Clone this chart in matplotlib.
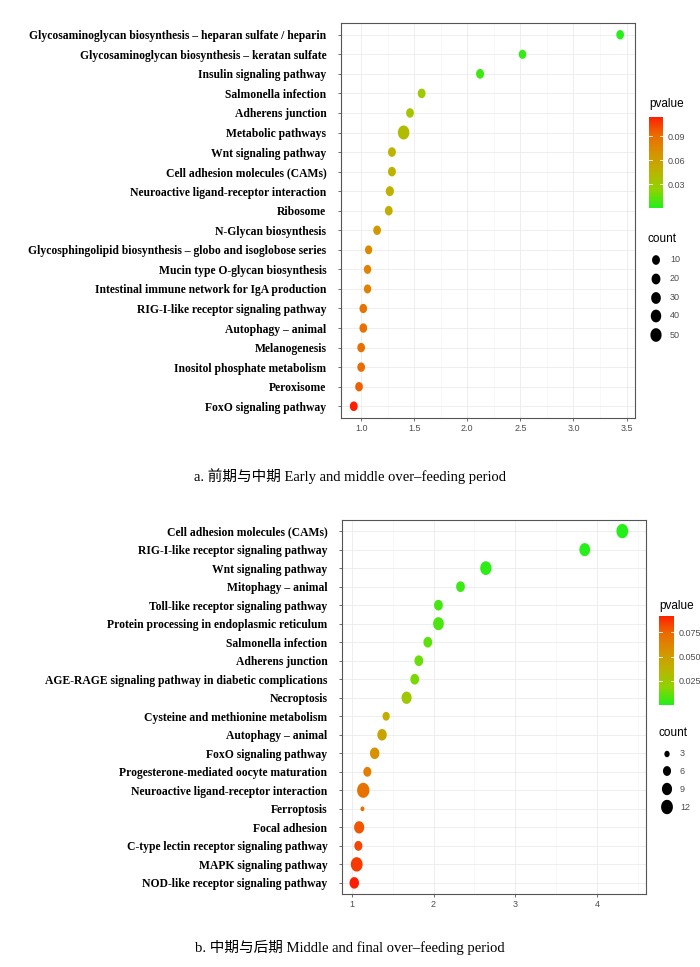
import numpy as np
import matplotlib
matplotlib.use("Agg")
import matplotlib.pyplot as plt
from matplotlib.colors import LinearSegmentedColormap, Normalize
from matplotlib.ticker import MultipleLocator
from matplotlib.path import Path

# panel a: early vs middle over-feeding
terms_a = [
    "Glycosaminoglycan biosynthesis – heparan sulfate / heparin",
    "Glycosaminoglycan biosynthesis – keratan sulfate",
    "Insulin signaling pathway",
    "Salmonella infection",
    "Adherens junction",
    "Metabolic pathways",
    "Wnt signaling pathway",
    "Cell adhesion molecules (CAMs)",
    "Neuroactive ligand-receptor interaction",
    "Ribosome",
    "N-Glycan biosynthesis",
    "Glycosphingolipid biosynthesis – globo and isoglobose series",
    "Mucin type O-glycan biosynthesis",
    "Intestinal immune network for IgA production",
    "RIG-I-like receptor signaling pathway",
    "Autophagy – animal",
    "Melanogenesis",
    "Inositol phosphate metabolism",
    "Peroxisome",
    "FoxO signaling pathway",
]
rich_a = [3.44, 2.52, 2.12, 1.57, 1.46, 1.40, 1.29, 1.29, 1.27, 1.26,
          1.15, 1.07, 1.06, 1.06, 1.02, 1.02, 1.00, 1.00, 0.98, 0.93]
pval_a = [0.001, 0.004, 0.006, 0.030, 0.034, 0.040, 0.045, 0.046, 0.048, 0.050,
          0.064, 0.074, 0.077, 0.078, 0.086, 0.087, 0.089, 0.090, 0.094, 0.114]
count_a = [8, 6, 11, 9, 9, 55, 10, 10, 13, 9,
           8, 4, 5, 5, 7, 8, 8, 8, 8, 10]

# panel b: middle vs final over-feeding
terms_b = [
    "Cell adhesion molecules (CAMs)",
    "RIG-I-like receptor signaling pathway",
    "Wnt signaling pathway",
    "Mitophagy – animal",
    "Toll-like receptor signaling pathway",
    "Protein processing in endoplasmic reticulum",
    "Salmonella infection",
    "Adherens junction",
    "AGE-RAGE signaling pathway in diabetic complications",
    "Necroptosis",
    "Cysteine and methionine metabolism",
    "Autophagy – animal",
    "FoxO signaling pathway",
    "Progesterone-mediated oocyte maturation",
    "Neuroactive ligand-receptor interaction",
    "Ferroptosis",
    "Focal adhesion",
    "C-type lectin receptor signaling pathway",
    "MAPK signaling pathway",
    "NOD-like receptor signaling pathway",
]
rich_b = [4.31, 3.85, 2.64, 2.33, 2.06, 2.06, 1.93, 1.82, 1.77, 1.67,
          1.42, 1.37, 1.28, 1.19, 1.14, 1.13, 1.09, 1.08, 1.06, 1.03]
pval_b = [0.0005, 0.001, 0.002, 0.004, 0.006, 0.007, 0.010, 0.012, 0.015, 0.025,
          0.040, 0.045, 0.055, 0.064, 0.070, 0.072, 0.079, 0.082, 0.085, 0.092]
count_b = [12, 10, 11, 7, 7, 10, 7, 7, 7, 9,
           5, 8, 8, 6, 13, 2, 9, 6, 12, 8]

legend_counts_a = [10, 20, 30, 40, 50]
legend_counts_b = [3, 6, 9, 12]

# green -> red gradient like ggplot scale_color_gradient(low="green", high="red")
cmap = LinearSegmentedColormap.from_list(
    "gr", ["#22F01A", "#8FD400", "#BDB300", "#D89200", "#EC6A00", "#FF1E00"])

label_font = dict(family="Liberation Serif", weight="bold", size=8.4)
tick_font = dict(family="Liberation Sans", size=6.5, color="#4d4d4d")
cap_family = ["Liberation Serif", "Noto Sans CJK SC"]

# the source picture was stretched a bit vertically, so dots are slightly tall
_t = np.linspace(0, 2 * np.pi, 60)
oval = Path(np.column_stack([0.82 * np.cos(_t), np.sin(_t)]), closed=True)


def size_a(c):
    return 36 + 1.2 * np.asarray(c, dtype=float)


def size_b(c):
    return np.clip(1.8 * (5.3 * np.asarray(c, dtype=float) - 4.0), 9, None)


def dot_panel(fig, rect, terms, rich, pval, count, sizefn, xlim, xmajor, xfmt):
    ax = fig.add_axes(rect)
    n = len(terms)
    y = np.arange(n)[::-1]
    ax.set_axisbelow(True)
    ax.scatter(rich, y, s=sizefn(count), c=pval, cmap=cmap, marker=oval,
               norm=Normalize(0, max(pval)), edgecolors="none", zorder=3)
    ax.set_ylim(-0.6, n - 1 + 0.6)
    ax.set_xlim(*xlim)
    ax.set_yticks(y)
    ax.set_yticklabels(terms, **label_font)
    ax.xaxis.set_major_locator(MultipleLocator(xmajor))
    ax.xaxis.set_minor_locator(MultipleLocator(xmajor / 2))
    ax.xaxis.set_major_formatter(xfmt)
    for lab in ax.get_xticklabels():
        lab.set_fontfamily(tick_font["family"])
        lab.set_fontsize(tick_font["size"])
        lab.set_color(tick_font["color"])
    ax.grid(True, which="major", color="#ebebeb", lw=0.6)
    ax.grid(True, which="minor", axis="x", color="#f3f3f3", lw=0.4)
    ax.tick_params(axis="both", which="major", length=2.5, width=0.5,
                   color="#333333", pad=2)
    ax.tick_params(axis="x", which="minor", length=0)
    ax.tick_params(axis="y", pad=8)
    for sp in ax.spines.values():
        sp.set_color("#555555")
        sp.set_linewidth(0.8)
    return ax


def color_legend(fig, rect, pmax, ticks, fmt, title_y):
    cax = fig.add_axes(rect)
    grad = np.linspace(0, pmax, 256).reshape(-1, 1)
    cax.imshow(grad, aspect="auto", cmap=cmap, origin="lower",
               extent=[0, 1, 0, pmax])
    cax.set_xticks([])
    cax.yaxis.tick_right()
    cax.set_yticks(ticks)
    cax.set_yticklabels([fmt % t for t in ticks], fontfamily="Liberation Sans",
                        fontsize=6.5, color="#4d4d4d")
    cax.tick_params(axis="y", length=0, pad=3)
    for t in ticks:
        cax.plot([0, 0.2], [t, t], color="white", lw=0.6)
        cax.plot([0.8, 1], [t, t], color="white", lw=0.6)
    cax.set_xlim(0, 1)
    cax.set_ylim(0, pmax)
    for sp in cax.spines.values():
        sp.set_visible(False)
    fig.text(rect[0], title_y, "pvalue", fontfamily="Liberation Sans",
             fontsize=8.5, ha="left", va="center")


def size_legend(fig, x_dot, x_lab, title_y, ys, counts, sizefn):
    fig.text(x_dot - 0.012, title_y, "count", fontfamily="Liberation Sans",
             fontsize=8.5, ha="left", va="center")
    lax = fig.add_axes([0, 0, 1, 1], facecolor="none")
    lax.set_xlim(0, 1)
    lax.set_ylim(0, 1)
    lax.axis("off")
    lax.scatter([x_dot] * len(counts), ys, s=sizefn(counts), c="black",
                marker=oval, edgecolors="none")
    for yy, c in zip(ys, counts):
        fig.text(x_lab, yy, str(c), fontfamily="Liberation Sans", fontsize=6.5,
                 color="#4d4d4d", ha="left", va="center")


W, H = 700, 967
fig = plt.figure(figsize=(W / 100, H / 100), dpi=100)

dot_panel(fig, [341 / W, 1 - 418 / H, 294 / W, 395 / H],
          terms_a, rich_a, pval_a, count_a, size_a,
          (0.81, 3.58), 0.5, "{x:.1f}")
color_legend(fig, [649 / W, 1 - 208 / H, 14 / W, 91 / H], max(pval_a),
             [0.03, 0.06, 0.09], "%.2f", 1 - 104 / H)
size_legend(fig, 656 / W, 670 / W, 1 - 239 / H,
            [1 - v / H for v in [260, 279, 298, 316, 335]],
            legend_counts_a, size_a)

dot_panel(fig, [342 / W, 1 - 894 / H, 304 / W, 374 / H],
          terms_b, rich_b, pval_b, count_b, size_b,
          (0.88, 4.6), 1, "{x:.0f}")
color_legend(fig, [659 / W, 1 - 705 / H, 15 / W, 89 / H], max(pval_b),
             [0.025, 0.050, 0.075], "%.3f", 1 - 606 / H)
size_legend(fig, 667 / W, 680 / W, 1 - 733 / H,
            [1 - v / H for v in [754, 771, 789, 807]],
            legend_counts_b, size_b)

fig.text(0.5, 1 - 476 / H, "a. 前期与中期 Early and middle over–feeding period",
         family=cap_family, fontsize=10.5, ha="center", va="center")
fig.text(0.5, 1 - 947 / H, "b. 中期与后期 Middle and final over–feeding period",
         family=cap_family, fontsize=10.5, ha="center", va="center")

fig.savefig("out.png", dpi=100, facecolor="white")
